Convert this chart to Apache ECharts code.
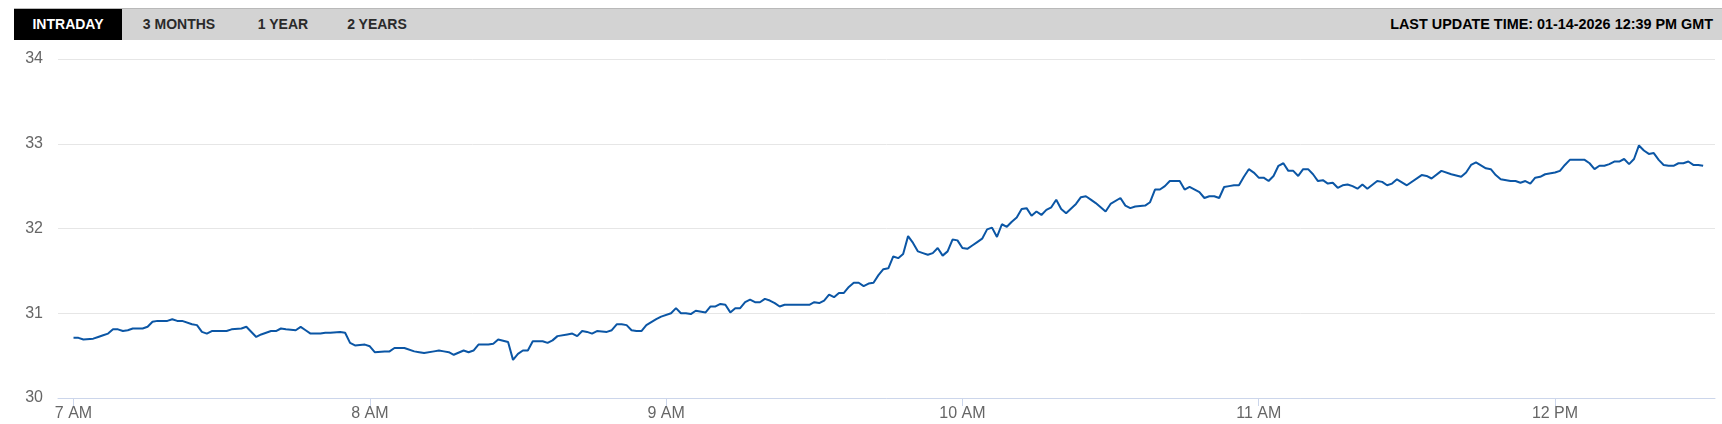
<!DOCTYPE html>
<html>
<head>
<meta charset="utf-8">
<title>Intraday</title>
<script src="https://cdn.jsdelivr.net/npm/echarts@6/dist/echarts.min.js"></script>
<style>
  html, body { margin: 0; padding: 0; background: #fff; }
  body { width: 1722px; height: 424px; position: relative; overflow: hidden; font-family: "Liberation Sans", Arial, sans-serif; }
  #chart { position: absolute; left: 0; top: 0; width: 1722px; height: 424px; }
  .bar { position: absolute; left: 14px; right: 0; top: 8px; height: 32px; background: #d3d3d3; border-top: 1px solid #b9b9b9; box-sizing: border-box; }
  .tab { position: absolute; top: 0; height: 31px; line-height: 31px; font-size: 14px; font-weight: bold; color: #2a2a2a; text-align: center; }
  .tab.active { background: #000; color: #fff; }
  .updated { position: absolute; right: 9px; top: 0; height: 31px; line-height: 31px; font-size: 14.4px; font-weight: bold; color: #000; }
</style>
</head>
<body>
<div id="chart"></div>
<div class="bar">
  <div class="tab active" style="left:0;width:108px">INTRADAY</div>
  <div class="tab" style="left:116px;width:98px">3 MONTHS</div>
  <div class="tab" style="left:238px;width:62px">1 YEAR</div>
  <div class="tab" style="left:326px;width:74px">2 YEARS</div>
  <div class="updated">LAST UPDATE TIME: 01-14-2026 12:39 PM GMT</div>
</div>
<script>
// prix par heure : [minute dans l'heure, prix]
var hour7 = [[0,30.71],[1,30.71],[2,30.69],[4,30.70],[5,30.72],[6,30.74],[7,30.76],[8,30.81],[9,30.81],[10,30.79],[11,30.80],[12,30.82],[14,30.82],[15,30.84],[16,30.90],[17,30.91],[19,30.91],[20,30.93],[21,30.91],[22,30.91],[24,30.87],[25,30.86],[26,30.78],[27,30.76],[28,30.79],[30,30.79],[31,30.79],[32,30.81],[34,30.82],[35,30.84],[37,30.72],[38,30.75],[40,30.79],[41,30.79],[42,30.82],[43,30.81],[45,30.80],[46,30.84],[47,30.80],[48,30.76],[50,30.76],[51,30.77],[52,30.77],[54,30.78],[55,30.77],[56,30.65],[57,30.62],[59,30.63]];
var hour8 = [[0,30.61],[1,30.54],[3,30.55],[4,30.55],[5,30.59],[7,30.59],[9,30.55],[10,30.54],[11,30.53],[13,30.55],[14,30.56],[15,30.55],[16,30.54],[17,30.51],[19,30.56],[20,30.54],[21,30.56],[22,30.63],[24,30.63],[25,30.64],[26,30.69],[28,30.66],[29,30.45],[30,30.52],[31,30.56],[32,30.56],[33,30.67],[35,30.67],[36,30.65],[37,30.68],[38,30.73],[40,30.75],[41,30.76],[42,30.73],[43,30.79],[44,30.78],[45,30.76],[46,30.79],[48,30.78],[49,30.80],[50,30.87],[51,30.87],[52,30.86],[53,30.80],[54,30.79],[55,30.79],[56,30.86],[58,30.93],[59,30.96]];
var hour9 = [[1,31.00],[2,31.06],[3,31.00],[4,31.00],[5,30.99],[6,31.03],[8,31.01],[9,31.08],[10,31.08],[11,31.11],[12,31.10],[13,31.01],[14,31.06],[15,31.06],[16,31.13],[17,31.16],[18,31.13],[19,31.13],[20,31.17],[21,31.15],[22,31.12],[23,31.08],[24,31.10],[25,31.10],[27,31.10],[29,31.10],[30,31.13],[31,31.12],[32,31.15],[33,31.22],[34,31.19],[35,31.24],[36,31.24],[37,31.31],[38,31.36],[39,31.36],[40,31.32],[41,31.35],[42,31.36],[43,31.45],[44,31.52],[45,31.53],[46,31.67],[47,31.65],[48,31.70],[49,31.91],[50,31.83],[51,31.73],[52,31.71],[53,31.69],[54,31.71],[55,31.77],[56,31.68],[57,31.73],[58,31.87],[59,31.86]];
var hour10 = [[0,31.77],[1,31.76],[2,31.80],[3,31.84],[4,31.88],[5,31.99],[6,32.01],[7,31.90],[8,32.05],[9,32.02],[10,32.08],[11,32.13],[12,32.23],[13,32.24],[14,32.15],[15,32.20],[16,32.16],[17,32.22],[18,32.25],[19,32.34],[20,32.23],[21,32.18],[23,32.29],[24,32.37],[25,32.38],[26,32.34],[27,32.30],[29,32.20],[30,32.29],[32,32.36],[33,32.27],[34,32.24],[35,32.26],[37,32.27],[38,32.31],[39,32.46],[40,32.46],[41,32.50],[42,32.56],[43,32.56],[44,32.56],[45,32.46],[46,32.49],[48,32.43],[49,32.36],[50,32.38],[51,32.38],[52,32.36],[53,32.49],[54,32.50],[55,32.51],[56,32.51],[57,32.61],[58,32.70],[59,32.66]];
var hour11 = [[0,32.60],[1,32.60],[2,32.56],[3,32.62],[4,32.74],[5,32.77],[6,32.68],[7,32.68],[8,32.62],[9,32.70],[10,32.70],[11,32.64],[12,32.56],[13,32.57],[14,32.53],[15,32.54],[16,32.48],[17,32.51],[18,32.52],[19,32.50],[20,32.47],[21,32.52],[22,32.47],[24,32.56],[25,32.55],[26,32.51],[27,32.53],[28,32.58],[30,32.51],[33,32.63],[34,32.62],[35,32.59],[37,32.68],[39,32.64],[41,32.61],[42,32.66],[43,32.75],[44,32.78],[46,32.71],[47,32.70],[48,32.63],[49,32.58],[51,32.56],[52,32.56],[53,32.54],[54,32.56],[55,32.53],[56,32.60],[57,32.61],[58,32.64]];
var hour12 = [[0,32.66],[1,32.68],[2,32.75],[3,32.81],[4,32.81],[6,32.81],[7,32.77],[8,32.70],[9,32.74],[10,32.74],[11,32.76],[12,32.79],[13,32.79],[14,32.82],[15,32.76],[16,32.82],[17,32.98],[18,32.92],[19,32.88],[20,32.89],[21,32.81],[22,32.75],[23,32.74],[24,32.74],[25,32.77],[26,32.77],[27,32.79],[28,32.75],[29,32.75],[30,32.74]];

// graduations
var hourTicks = [0, 60, 120, 180, 240, 300]; // minutes depuis 7h
var hourLabels = ['7 AM', '8 AM', '9 AM', '10 AM', '11 AM', '12 PM'];
var priceTicks = [30, 31, 32, 33, 34];

// minutes depuis 7h00
var points = [];
[hour7, hour8, hour9, hour10, hour11, hour12].forEach(function (h, i) {
  h.forEach(function (p) { points.push([i * 60 + p[0], p[1]]); });
});

var chart = echarts.init(document.getElementById('chart'));
chart.setOption({
  animation: false,
  grid: { left: 58, right: 7, top: 59, bottom: 26, containLabel: false, outerBoundsMode: 'none' },
  xAxis: {
    type: 'value',
    min: -3.14,
    max: 332.4,
    axisLine: { lineStyle: { color: '#ccd6eb', width: 1 } },
    axisTick: { show: true, customValues: hourTicks, length: 8, lineStyle: { color: '#ccd6eb' } },
    axisLabel: {
      customValues: hourTicks,
      margin: 8,
      color: '#666',
      fontSize: 16,
      fontFamily: '"Liberation Sans", Arial, sans-serif',
      formatter: function (v) { return hourLabels[hourTicks.indexOf(v)]; }
    },
    splitLine: { show: false }
  },
  yAxis: {
    type: 'value',
    min: priceTicks[0],
    max: priceTicks[priceTicks.length - 1],
    interval: 1,
    axisLine: { show: false },
    axisTick: { show: false },
    axisLabel: { color: '#666', fontSize: 16, margin: 15, fontFamily: '"Liberation Sans", Arial, sans-serif' },
    splitLine: { lineStyle: { color: '#e6e6e6', width: 1 } }
  },
  series: [{
    type: 'line',
    data: points,
    showSymbol: false,
    lineStyle: { color: '#0b56a5', width: 2 },
    z: 3
  }]
});
</script>
</body>
</html>
